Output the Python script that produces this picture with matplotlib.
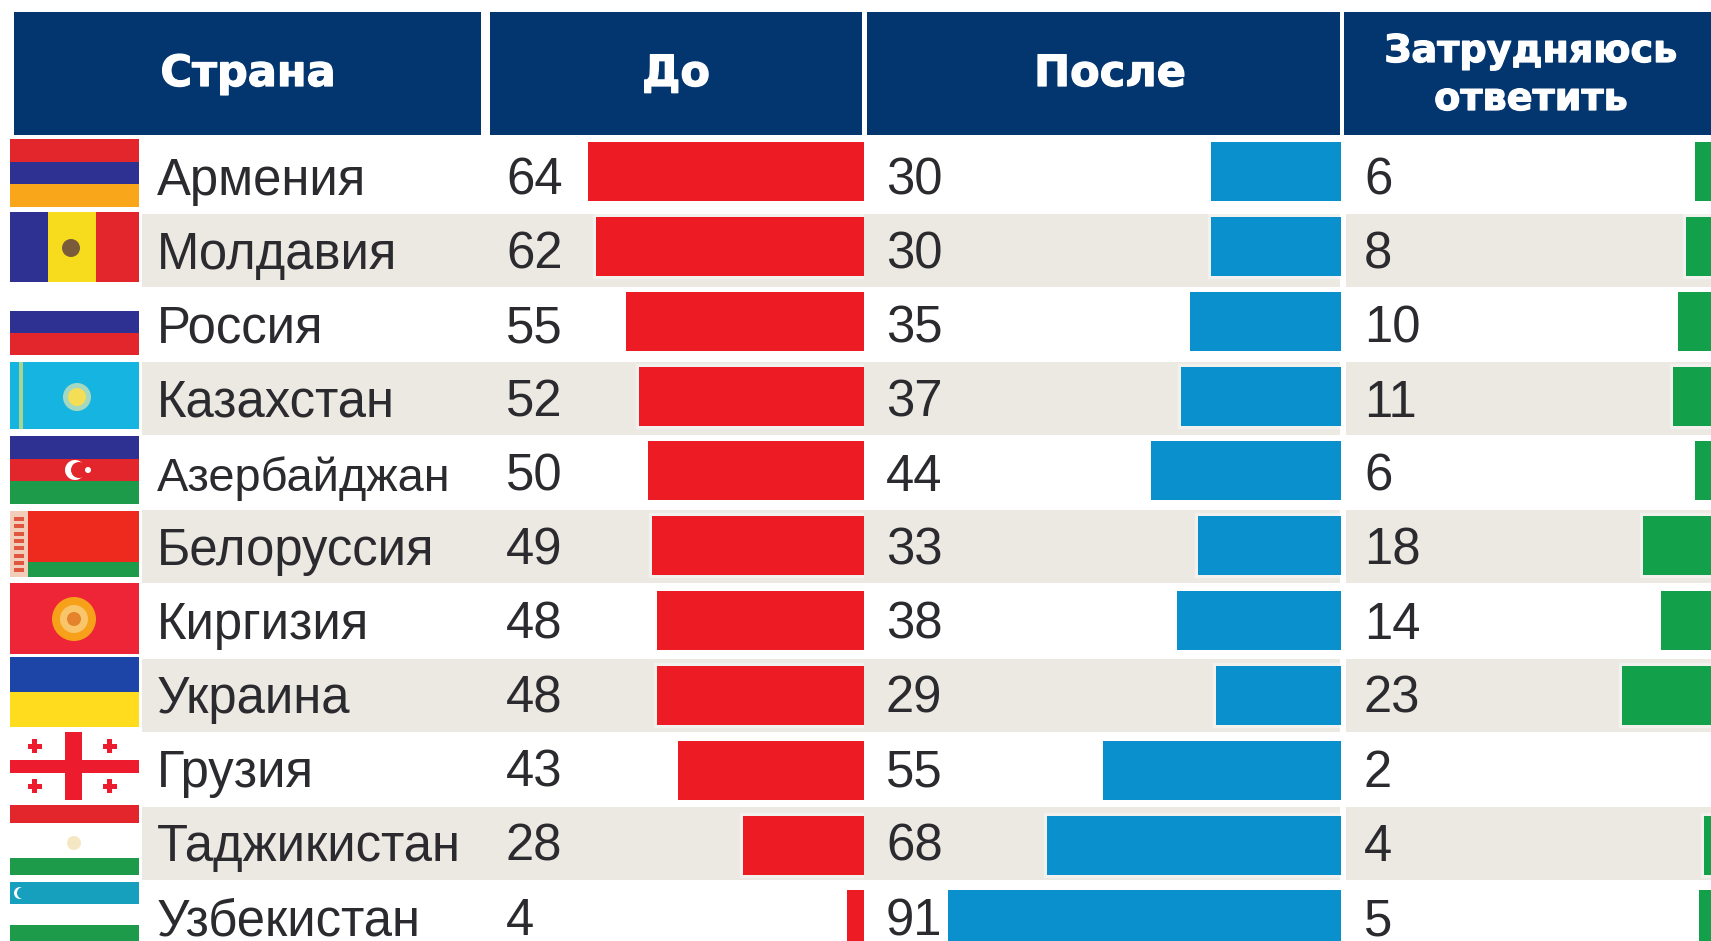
import matplotlib
matplotlib.use("Agg")
import matplotlib.pyplot as plt
import matplotlib.patheffects as pe
from matplotlib.patches import Rectangle, Circle

countries = ["Армения", "Молдавия", "Россия", "Казахстан", "Азербайджан", "Белоруссия",
             "Киргизия", "Украина", "Грузия", "Таджикистан", "Узбекистан"]
before = [64, 62, 55, 52, 50, 49, 48, 48, 43, 28, 4]
after = [30, 30, 35, 37, 44, 33, 38, 29, 55, 68, 91]
unsure = [6, 8, 10, 11, 6, 18, 14, 23, 2, 4, 5]
headers = ["Страна", "До", "После"]
header_two_lines = ["Затрудняюсь", "ответить"]

W, H = 1711, 941
NAVY = "#03356F"
GREY = "#ECE9E3"
RED = "#ED1C24"
BLUE = "#0A90CC"
GREEN = "#12A04A"
TXT = "#2B2A2E"
FONT = "Liberation Sans"
HFONT = "DejaVu Sans"

fig = plt.figure(figsize=(W / 100, H / 100), dpi=100, facecolor="white")
bg = fig.add_axes([0, 0, 1, 1])
bg.set_xlim(0, W)
bg.set_ylim(H, 0)
bg.axis("off")

ROW0, PITCH, BAR_H = 171.5, 74.85, 59
PX_PER_UNIT = 4.32

# header cells
cells = [(14, 481), (490, 862), (867, 1340), (1344, 1711)]
centres = [248, 676, 1110]
for x0, x1 in cells:
    bg.add_patch(Rectangle((x0, 12), x1 - x0, 123, fc=NAVY, ec="none"))
hkw = dict(color="white", family=HFONT, weight="bold", ha="center", va="baseline",
           path_effects=[pe.withStroke(linewidth=0.9, foreground="white")])
for cx, h in zip(centres, headers):
    bg.text(cx, 86, h, fontsize=31, **hkw)
bg.text(1531, 62, header_two_lines[0], fontsize=27.5, **hkw)
bg.text(1531, 110, header_two_lines[1], fontsize=27.5, **hkw)

# alternating bands
for k, i in enumerate(range(1, len(countries), 2)):
    yc = 250 + k * 148.4
    bg.add_patch(Rectangle((142, yc - 36.5), W - 142, 73, fc=GREY, ec="none"))
bg.add_patch(Rectangle((1340, 135), 6, H - 135, fc="white", ec="none"))

# labels
for i, (c, b, a, u) in enumerate(zip(countries, before, after, unsure)):
    y = 194.5 + 74.05 * i
    kw = dict(color=TXT, family=FONT, va="baseline")
    bg.text(157, y, c, fontsize=33.8 if c == "Азербайджан" else 36.6, **kw)
    bg.text(506, y, str(b), fontsize=36.6, **kw)
    bg.text(886, y, str(a), fontsize=36.6, **kw)
    bg.text(1364, y, str(u), fontsize=36.6, **kw)


# bars, one value axis per column, growing leftwards from the column edge
def bar_axes(right_px, values, color):
    left_px = right_px - 100 * PX_PER_UNIT
    ax = fig.add_axes([left_px / W, 0, (right_px - left_px) / W, 1], facecolor="none")
    ax.set_xlim(100, 0)
    ax.set_ylim((H - ROW0) / PITCH, -ROW0 / PITCH)
    ys = range(len(values))
    ax.barh(ys, values, height=BAR_H / PITCH, color="none", edgecolor=(1, 1, 1, 0.4), linewidth=4.5)
    ax.barh(ys, values, height=BAR_H / PITCH, color=color, linewidth=0)
    ax.axis("off")
    return ax


bar_axes(864, before, RED)
bar_axes(1341, after, BLUE)
bar_axes(1721, unsure, GREEN)

# flags
FX0, FX1 = 10, 139
FW = FX1 - FX0


def stripes(y0, y1, cols, fracs=None):
    n = len(cols)
    fracs = fracs or [1 / n] * n
    y = y0
    for c, f in zip(cols, fracs):
        h = (y1 - y0) * f
        bg.add_patch(Rectangle((FX0, y), FW, h, fc=c, ec="none", zorder=3))
        y += h


def box(x, y, w, h, c):
    bg.add_patch(Rectangle((x, y), w, h, fc=c, ec="none", zorder=4))


def disc(x, y, r, c):
    bg.add_patch(Circle((x, y), r, fc=c, ec="none", zorder=5))


F_RED = "#E3262B"
F_BLU = "#2E3192"
F_YEL = "#F7DC1E"
F_GRN = "#1E9A4B"

# Armenia
stripes(139, 207, [F_RED, F_BLU, "#F9A61A"])
# Moldova
stripes(212, 282, [F_RED])
box(FX0, 212, 38, 70, F_BLU)
box(48, 212, 48, 70, F_YEL)
disc(71, 248, 9, "#7A5C3A")
# Russia
stripes(311, 355, [F_BLU, F_RED])
# Kazakhstan
stripes(362, 429, ["#16B4E0"])
box(19, 362, 4, 67, "#A8D690")
disc(77, 397, 14, "#A5D8C0")
disc(77, 397, 9, "#F4DE55")
# Azerbaijan
stripes(436, 504, [F_BLU, F_RED, F_GRN])
disc(75, 470, 10, "white")
disc(79, 470, 8, F_RED)
disc(88, 470, 3, "white")
# Belarus
stripes(511, 577, ["#EE2A1F", F_GRN], [0.78, 0.22])
box(FX0, 511, 18, 66, "#F2CDBA")
for k in range(8):
    box(14, 517 + k * 7.3, 10, 4, "#E0563F")
# Kyrgyzstan
stripes(583, 654, ["#EE2437"])
disc(74, 619, 22, "#F7A11A")
disc(74, 619, 14, "#F9C56B")
disc(74, 619, 7, "#E4832B")
# Ukraine
stripes(657, 727, ["#1D45A8", "#FFDD1E"])
# Georgia
stripes(732, 800, ["white"])
box(FX0, 760, FW, 13, "#EC1C2E")
box(65, 732, 17, 68, "#EC1C2E")
for px, py in [(35, 746), (110, 746), (35, 786), (110, 786)]:
    box(px - 7, py - 2.5, 14, 5, "#EC1C2E")
    box(px - 2.5, py - 7, 5, 14, "#EC1C2E")
# Tajikistan
stripes(805, 875, [F_RED, "white", F_GRN], [0.26, 0.5, 0.24])
disc(74, 843, 7, "#F6E7C4")
# Uzbekistan
stripes(882, 941, ["#17A0BE", "white"], [0.38, 0.62])
box(FX0, 925, FW, 16, F_GRN)
disc(20, 893, 6, "white")
disc(23, 893, 6, "#17A0BE")

fig.savefig("out.png", dpi=100, facecolor="white")
